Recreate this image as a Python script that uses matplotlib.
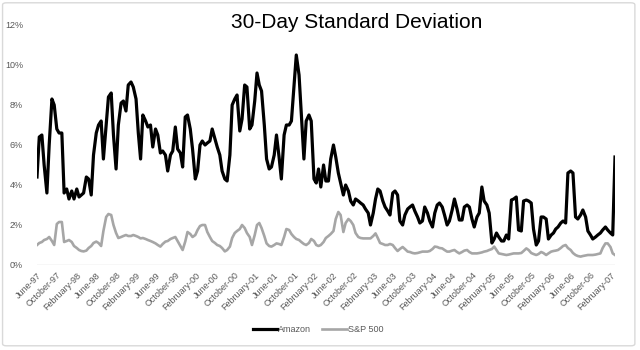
import pandas as pd
import matplotlib
matplotlib.use("Agg")
import matplotlib.pyplot as plt
import matplotlib.dates as mdates
from matplotlib.patches import FancyBboxPatch

plt.rcParams['font.family'] = ['Liberation Sans', 'DejaVu Sans']

# semi-monthly observations, June 1997 - March 2007 (values in %)
start_date = '1997-06-01'

amazon = [
    4.4, 6.4, 6.5, 5.0, 3.6, 6.0, 8.3, 8.0, 6.8, 6.6,
    6.6, 3.6, 3.8, 3.3, 3.7, 3.3, 3.8, 3.4, 3.5, 3.6,
    4.4, 4.3, 3.5, 5.5, 6.6, 7.0, 7.2, 5.3, 7.0, 8.4,
    8.6, 6.5, 4.8, 7.0, 8.1, 8.2, 7.7, 9.0, 9.15, 8.9,
    8.3, 6.6, 5.3, 7.5, 7.2, 6.9, 7.0, 5.9, 6.8, 6.5,
    5.6, 5.7, 5.5, 4.7, 5.5, 5.7, 6.9, 5.8, 5.6, 4.9,
    7.4, 7.5, 6.8, 5.8, 4.3, 4.7, 6.0, 6.2, 6.0, 6.1,
    6.2, 6.8, 6.3, 5.9, 5.5, 4.7, 4.3, 4.2, 5.5, 8.0,
    8.3, 8.5, 6.7, 7.3, 9.0, 8.9, 6.8, 7.0, 8.2, 9.6,
    9.0, 8.7, 7.0, 5.3, 4.8, 4.9, 5.5, 6.5, 5.4, 4.3,
    6.5, 7.0, 7.0, 7.2, 9.0, 10.5, 9.5, 7.5, 5.3, 7.2,
    7.5, 7.2, 4.3, 4.1, 4.8, 3.9, 5.0, 4.2, 4.2, 5.3,
    6.0, 5.4, 4.6, 4.1, 3.5, 4.0, 3.7, 3.2, 3.0, 3.3,
    3.2, 3.1, 3.0, 2.8, 2.6, 2.0, 2.6, 3.3, 3.8, 3.7,
    3.2, 2.9, 2.7, 2.5, 3.6, 3.7, 3.5, 2.2, 2.0, 2.5,
    2.8, 2.9, 3.0, 2.7, 2.4, 2.1, 2.2, 2.9, 2.6, 2.2,
    1.9, 2.6, 3.0, 3.1, 2.9, 2.5, 2.0, 2.2, 2.75, 3.3,
    2.8, 2.25, 2.25, 2.9, 3.0, 2.9, 2.3, 1.9, 2.4, 2.6,
    3.9, 3.2, 3.0, 2.6, 1.1, 1.3, 1.6, 1.4, 1.2, 1.2,
    1.5, 1.3, 3.25, 3.3, 3.4, 1.75, 1.7, 3.2, 3.25, 3.2,
    3.1, 1.8, 1.0, 1.2, 2.4, 2.4, 2.3, 1.3, 1.5, 1.6,
    1.8, 1.9, 2.1, 2.2, 2.1, 4.6, 4.7, 4.6, 2.4, 2.3,
    2.5, 2.75, 2.4, 1.7, 1.5, 1.3, 1.4, 1.5, 1.6, 1.75,
    1.9, 1.75, 1.6, 1.5, 5.4,
]

sp500 = [
    1.0, 1.1, 1.15, 1.25, 1.3, 1.4, 1.2, 1.0, 2.05, 2.15,
    2.15, 1.15, 1.2, 1.25, 1.15, 0.95, 0.85, 0.75, 0.7, 0.68,
    0.72, 0.85, 0.95, 1.1, 1.17, 1.1, 0.95, 1.7, 2.4, 2.55,
    2.5, 2.0, 1.6, 1.35, 1.4, 1.45, 1.5, 1.45, 1.45, 1.5,
    1.45, 1.4, 1.33, 1.35, 1.3, 1.25, 1.2, 1.15, 1.08, 1.0,
    0.92, 1.05, 1.17, 1.2, 1.3, 1.35, 1.4, 1.2, 0.95, 0.75,
    1.17, 1.65, 1.55, 1.4, 1.5, 1.75, 1.95, 2.0, 2.0, 1.65,
    1.4, 1.2, 1.1, 1.0, 0.95, 0.85, 0.68, 0.75, 0.92, 1.35,
    1.6, 1.7, 1.8, 2.0, 1.85, 1.6, 1.4, 1.0, 1.5, 2.0,
    2.1, 1.85, 1.45, 1.08, 0.95, 0.92, 1.0, 1.08, 1.05, 1.0,
    1.4, 1.8, 1.75, 1.55, 1.4, 1.3, 1.25, 1.15, 1.05, 1.0,
    1.1, 1.3, 1.2, 1.0, 0.95, 1.0, 1.15, 1.35, 1.45, 1.55,
    1.7, 2.3, 2.65, 2.5, 1.65, 2.1, 2.3, 2.2, 2.0, 1.6,
    1.4, 1.35, 1.33, 1.33, 1.33, 1.33, 1.45, 1.58, 1.35, 1.1,
    1.05, 1.0, 1.0, 1.05, 1.0, 0.85, 0.7, 0.8, 0.9, 0.8,
    0.67, 0.65, 0.6, 0.58, 0.6, 0.63, 0.67, 0.67, 0.67, 0.7,
    0.8, 0.92, 0.9, 0.85, 0.83, 0.75, 0.67, 0.67, 0.72, 0.75,
    0.65, 0.58, 0.65, 0.72, 0.75, 0.65, 0.58, 0.58, 0.58, 0.6,
    0.63, 0.67, 0.7, 0.75, 0.8, 0.92, 0.75, 0.58, 0.55, 0.52,
    0.5, 0.52, 0.55, 0.58, 0.58, 0.58, 0.6, 0.7, 0.83, 0.75,
    0.6, 0.55, 0.5, 0.55, 0.65, 0.6, 0.5, 0.58, 0.67, 0.7,
    0.72, 0.75, 0.85, 0.95, 1.0, 0.85, 0.75, 0.6, 0.5, 0.45,
    0.42, 0.45, 0.48, 0.5, 0.5, 0.5, 0.52, 0.55, 0.58, 0.85,
    1.08, 1.08, 0.9, 0.58, 0.5,
]

y_ticks = [0, 2, 4, 6, 8, 10, 12]
y_tick_labels = [f"{t}%" for t in y_ticks]

dates = pd.date_range(start_date, periods=len(amazon), freq='SMS')

fig = plt.figure(figsize=(6.4, 3.5), dpi=100)
fig.patch.set_facecolor('white')

# chart area border
border = FancyBboxPatch((0.004, 0.012), 0.988, 0.98, boxstyle="round,pad=0,rounding_size=0.006",
                        transform=fig.transFigure, facecolor='none', edgecolor='#d9d9d9',
                        linewidth=1.0, zorder=5)
fig.patches.append(border)

ax = fig.add_axes([37 / 640, 1 - 265 / 350, (615 - 37) / 640, 240 / 350])
ax.set_facecolor('none')

ax.plot(dates, amazon, color='black', linewidth=2.3, label='Amazon', zorder=3)
ax.plot(dates, sp500, color='#a6a6a6', linewidth=1.9, label='S&P 500', zorder=2)
ax.axhline(0, color='#d9d9d9', linewidth=1.0, zorder=1)

ax.set_ylim(0, 12)
ax.set_xlim(dates[0], dates[-1])
ax.set_yticks(y_ticks)
ax.set_yticklabels(y_tick_labels)

ax.xaxis.set_major_locator(mdates.MonthLocator(bymonth=(2, 6, 10)))
ax.xaxis.set_major_formatter(mdates.DateFormatter('%B-%y'))
for lab in ax.get_xticklabels():
    lab.set_rotation(45)
    lab.set_ha('right')
    lab.set_rotation_mode('anchor')

ax.tick_params(axis='x', length=0, pad=4, labelsize=6.5, labelcolor='#595959')
ax.tick_params(axis='y', length=0, pad=10, labelsize=6.5, labelcolor='#595959')
for s in ax.spines.values():
    s.set_visible(False)

fig.text(357 / 640, 1 - 23 / 350, '30-Day Standard Deviation', fontsize=15,
         ha='center', va='center', color='black')

fig.legend(loc='center', bbox_to_anchor=(318 / 640, 1 - 330 / 350), ncol=2, frameon=False,
           fontsize=6.5, handlelength=2.7, handletextpad=0.15, columnspacing=1.2,
           labelcolor='#595959')

fig.savefig('out.png', dpi=100)
